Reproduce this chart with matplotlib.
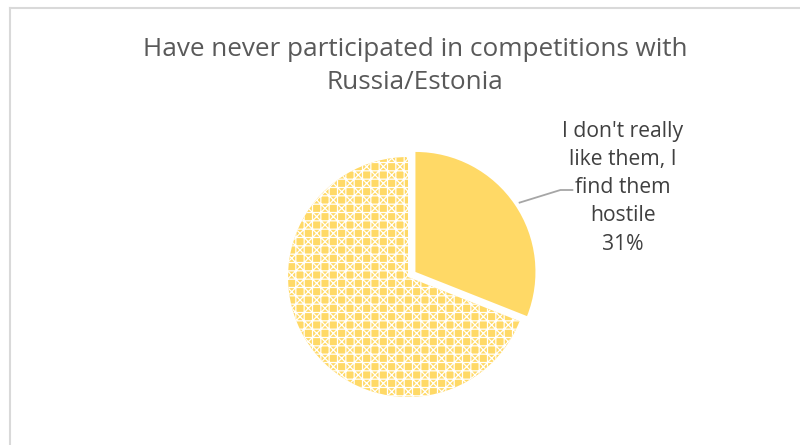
import matplotlib
matplotlib.use("Agg")
import matplotlib.pyplot as plt
from matplotlib.lines import Line2D

# data
labels = ["I don't really like them, I\nfind them hostile", "Other"]
values = [31, 69]
pct_labels = ["31%", "69%"]
title = "Have never participated in competitions with\nRussia/Estonia"

yellow = "#FFD966"
plt.rcParams['font.family'] = ['Open Sans', 'DejaVu Sans']
plt.rcParams['hatch.linewidth'] = 0.9

W, H = 800, 445
fig = plt.figure(figsize=(W / 100, H / 100), dpi=100)
fig.patch.set_facecolor("white")

# pie axes: centre at (408, 277) px, radius 120 px
cx, cy, r = 408, 277, 120
half = 1.25 * r
ax = fig.add_axes([(cx - half) / W, (H - cy - half) / H, 2 * half / W, 2 * half / H])
ax.set_xlim(-1.25, 1.25)
ax.set_ylim(-1.25, 1.25)
ax.axis("off")

wedges, _ = ax.pie(values, startangle=90, counterclock=False,
                   explode=[0.075, 0], radius=1,
                   colors=[yellow, yellow],
                   wedgeprops=dict(linewidth=0))
wedges[1].set_hatch("++xx")
wedges[1].set_edgecolor("white")
wedges[1].set_linewidth(0)

# leader line + label for the exploded slice
ax.plot([0.93, 1.27, 1.37], [0.62, 0.725, 0.725], color="#A6A6A6", lw=1.3,
        clip_on=False)
ax.text(1.79, 0.745, "I don't really\nlike them, I\nfind them\nhostile\n" + pct_labels[0],
        ha="center", va="center", fontsize=15.2, color="#404040",
        linespacing=1.45, clip_on=False)

fig.text(415 / W, 1 - 66 / H, title, ha="center", va="center",
         fontsize=18.8, color="#595959", linespacing=1.45)

# chart border (top and left visible)
fig.add_artist(Line2D([9.5 / W, 1], [1 - 7.5 / H, 1 - 7.5 / H],
                      transform=fig.transFigure, color="#D9D9D9", lw=1.5))
fig.add_artist(Line2D([9.5 / W, 9.5 / W], [0, 1 - 7.5 / H],
                      transform=fig.transFigure, color="#D9D9D9", lw=1.5))

fig.savefig("out.png", dpi=100, facecolor="white")
